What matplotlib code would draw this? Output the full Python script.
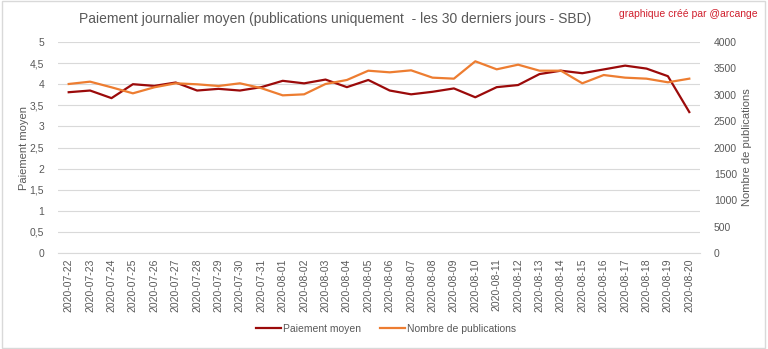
import matplotlib
matplotlib.use('Agg')
import matplotlib.pyplot as plt
from matplotlib.patches import Rectangle

plt.rcParams['font.family'] = ['Liberation Sans', 'DejaVu Sans']

# Data
dates = ['2020-07-22', '2020-07-23', '2020-07-24', '2020-07-25', '2020-07-26',
         '2020-07-27', '2020-07-28', '2020-07-29', '2020-07-30', '2020-07-31',
         '2020-08-01', '2020-08-02', '2020-08-03', '2020-08-04', '2020-08-05',
         '2020-08-06', '2020-08-07', '2020-08-08', '2020-08-09', '2020-08-10',
         '2020-08-11', '2020-08-12', '2020-08-13', '2020-08-14', '2020-08-15',
         '2020-08-16', '2020-08-17', '2020-08-18', '2020-08-19', '2020-08-20']
paiement = [3.81, 3.85, 3.67, 4.00, 3.96, 4.04, 3.85, 3.89, 3.85, 3.93,
            4.08, 4.02, 4.11, 3.93, 4.10, 3.85, 3.76, 3.82, 3.90, 3.69,
            3.93, 3.98, 4.24, 4.32, 4.26, 4.35, 4.44, 4.37, 4.19, 3.34]
publications = [3204, 3248, 3141, 3027, 3141, 3217, 3198, 3166, 3217, 3125,
                2989, 3008, 3204, 3280, 3456, 3425, 3463, 3324, 3305, 3634,
                3482, 3570, 3456, 3456, 3217, 3374, 3324, 3305, 3236, 3305]

y_ticks = [0, 0.5, 1, 1.5, 2, 2.5, 3, 3.5, 4, 4.5, 5]
y_labels = ['0', '0,5', '1', '1,5', '2', '2,5', '3', '3,5', '4', '4,5', '5']
y2_ticks = [0, 500, 1000, 1500, 2000, 2500, 3000, 3500, 4000]

grey = '#595959'
red = '#9b0a0a'
orange = '#ed7d31'

fig = plt.figure(figsize=(7.68, 3.49), dpi=100)
ax = fig.add_axes([58 / 768, 1 - 253 / 349, 642 / 768, 211 / 349])
ax2 = ax.twinx()

x = range(len(dates))
l1, = ax.plot(x, paiement, color=red, lw=1.6, label='Paiement moyen', zorder=3)
l2, = ax2.plot(x, publications, color=orange, lw=1.6, label='Nombre de publications')

ax.set_xlim(-0.5, len(dates) - 0.5)
ax.set_ylim(0, 5)
ax2.set_ylim(0, 4000)
ax.set_yticks(y_ticks)
ax.set_yticklabels(y_labels)
ax2.set_yticks(y2_ticks)
ax.set_xticks(list(x))
ax.set_xticklabels(dates, rotation=90, fontsize=7, color=grey)

ax.grid(axis='y', color='#d9d9d9', lw=0.8)
ax.set_axisbelow(True)
for a in (ax, ax2):
    for s in a.spines.values():
        s.set_visible(False)
    a.tick_params(length=0, colors=grey, labelsize=7.5)
ax.spines['bottom'].set_visible(True)
ax.spines['bottom'].set_color('#d9d9d9')
ax.tick_params(axis='y', pad=10)
ax2.tick_params(axis='y', pad=10)
ax.tick_params(axis='x', pad=4)

ax.set_ylabel('Paiement moyen', color=grey, fontsize=8)
ax.yaxis.set_label_coords((29 - 58) / 642, 0.5)
ax2.set_ylabel('Nombre de publications', color=grey, fontsize=8)
ax2.yaxis.set_label_coords((742 - 58) / 642, 0.5)

fig.text(335 / 768, 1 - 19 / 349, 'Paiement journalier moyen (publications uniquement  - les 30 derniers jours - SBD)',
         ha='center', va='center', fontsize=10, color=grey)
fig.text(758 / 768, 1 - 14 / 349, 'graphique créé par @arcange', ha='right', va='center',
         fontsize=7.5, color='#d0202e')

fig.legend(handles=[l1, l2], loc='center', bbox_to_anchor=(386 / 768, 1 - 329 / 349), ncol=2,
           frameon=False, fontsize=7.5, labelcolor=grey, handlelength=2.4, columnspacing=1.9,
           handletextpad=0.15)

fig.patches.append(Rectangle((0.002, 0.004), 0.994, 0.992, transform=fig.transFigure,
                             fill=False, edgecolor='#d9d9d9', lw=1))

fig.savefig('out.png', dpi=100)
